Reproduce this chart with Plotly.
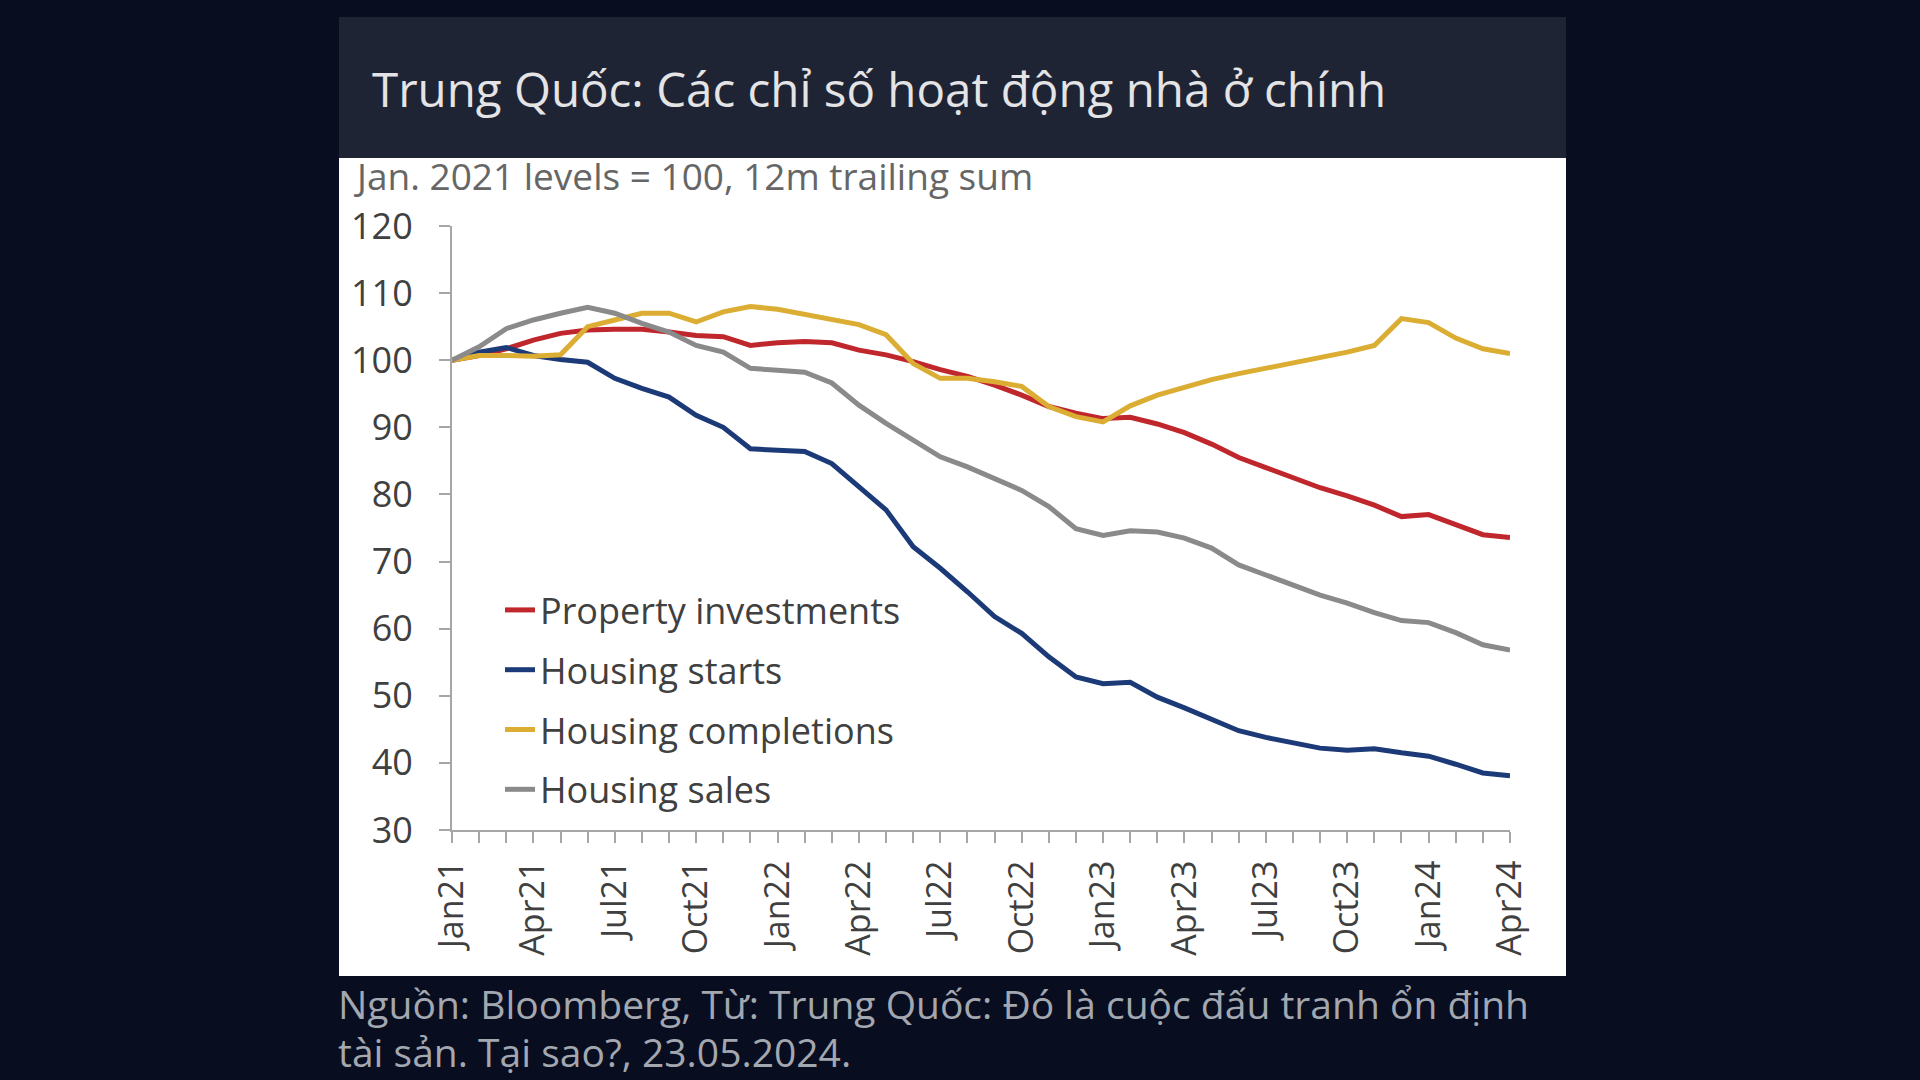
import plotly.graph_objects as go

W, H = 1920, 1080

months = ["Jan21", "Feb21", "Mar21", "Apr21", "May21", "Jun21", "Jul21", "Aug21", "Sep21", "Oct21",
          "Nov21", "Dec21", "Jan22", "Feb22", "Mar22", "Apr22", "May22", "Jun22", "Jul22", "Aug22",
          "Sep22", "Oct22", "Nov22", "Dec22", "Jan23", "Feb23", "Mar23", "Apr23", "May23", "Jun23",
          "Jul23", "Aug23", "Sep23", "Oct23", "Nov23", "Dec23", "Jan24", "Feb24", "Mar24", "Apr24"]

tick_labels = ["Jan21", "Apr21", "Jul21", "Oct21", "Jan22", "Apr22", "Jul22", "Oct22",
               "Jan23", "Apr23", "Jul23", "Oct23", "Jan24", "Apr24"]

property_investments = [100, 100.7, 101.7, 103, 104, 104.5, 104.6, 104.6, 104.2, 103.7,
                        103.5, 102.2, 102.6, 102.8, 102.6, 101.5, 100.8, 99.8, 98.6, 97.6,
                        96.3, 94.8, 93.1, 92.1, 91.3, 91.5, 90.5, 89.2, 87.5, 85.5,
                        84.0, 82.5, 81.0, 79.8, 78.4, 76.7, 77.0, 75.5, 74.0, 73.6]

housing_starts = [100, 101.2, 101.9, 100.7, 100.1, 99.7, 97.3, 95.8, 94.5, 91.8,
                  90.0, 86.8, 86.6, 86.4, 84.6, 81.1, 77.7, 72.2, 69.0, 65.5,
                  61.8, 59.3, 55.8, 52.8, 51.8, 52.0, 49.8, 48.2, 46.5, 44.8,
                  43.8, 43.0, 42.2, 41.9, 42.1, 41.5, 41.0, 39.8, 38.5, 38.1]

housing_completions = [100, 100.7, 100.7, 100.6, 100.8, 105.0, 106.0, 107.0, 107.0, 105.7,
                       107.2, 108.0, 107.6, 106.8, 106.0, 105.3, 103.8, 99.5, 97.3, 97.3,
                       96.8, 96.1, 93.1, 91.6, 90.8, 93.2, 94.8, 96.0, 97.1, 98.0,
                       98.8, 99.5, 100.4, 101.2, 102.2, 106.2, 105.6, 103.3, 101.7, 101.0]

housing_sales = [100, 102.0, 104.7, 106.0, 107.0, 107.9, 107.0, 105.5, 104.2, 102.2,
                 101.2, 98.8, 98.5, 98.2, 96.6, 93.3, 90.6, 88.1, 85.6, 84.1,
                 82.4, 80.6, 78.2, 74.9, 73.9, 74.6, 74.4, 73.5, 72.0, 69.5,
                 68.0, 66.5, 65.0, 63.8, 62.4, 61.2, 60.9, 59.4, 57.6, 56.8]

series = [
    ("Property investments", property_investments, "#c0272d"),
    ("Housing starts", housing_starts, "#1c3a78"),
    ("Housing completions", housing_completions, "#dbad33"),
    ("Housing sales", housing_sales, "#8a8a8a"),
]

title_text = "Trung Quốc: Các chỉ số hoạt động nhà ở chính"
subtitle_text = "Jan. 2021 levels = 100, 12m trailing sum"
footer_lines = ["Nguồn: Bloomberg, Từ: Trung Quốc: Đó là cuộc đấu tranh ổn định",
                "tài sản. Tại sao?, 23.05.2024."]

# plot-area geometry (pixels)
L, R, T, B = 452, 410, 226, 250
PW, PH = W - L - R, H - T - B


def px(x):
    return (x - L) / PW


def py(y):
    return (H - B - y) / PH


FONT = "Open Sans"
BG = "#080d1f"
fig = go.Figure()
for i, (name, vals, col) in enumerate(series):
    fig.add_trace(go.Scatter(x=months, y=vals, name=name, mode="lines",
                             line=dict(color=col, width=5), legendgroup=str(i)))

ticktext = [m if m in tick_labels else "" for m in months]

shapes = [
    dict(type="rect", xref="paper", yref="paper", x0=px(339), x1=px(1566), y0=py(158), y1=py(17),
         fillcolor="#1f2434", line=dict(width=0), layer="below"),
    dict(type="rect", xref="paper", yref="paper", x0=px(339), x1=px(1566), y0=py(976), y1=py(158),
         fillcolor="#ffffff", line=dict(width=0), layer="below"),
]

annotations = [
    dict(text=title_text, xref="paper", yref="paper", x=px(370), y=py(88), xanchor="left",
         yanchor="middle", showarrow=False, font=dict(family=FONT, size=47.5, color="#e4e4e6")),
    dict(text=subtitle_text, xref="paper", yref="paper", x=px(352), y=py(176), xanchor="left",
         yanchor="middle", showarrow=False, font=dict(family=FONT, size=37, color="#666666")),
    dict(text=footer_lines[0], xref="paper", yref="paper", x=px(336), y=py(1003), xanchor="left",
         yanchor="middle", showarrow=False, font=dict(family=FONT, size=39, color="#a3a7b0")),
    dict(text=footer_lines[1], xref="paper", yref="paper", x=px(336), y=py(1051), xanchor="left",
         yanchor="middle", showarrow=False, font=dict(family=FONT, size=39, color="#a3a7b0")),
]

fig.update_layout(
    width=W, height=H,
    margin=dict(l=L, r=R, t=T, b=B, pad=0),
    paper_bgcolor=BG,
    plot_bgcolor="rgba(0,0,0,0)",
    shapes=shapes,
    annotations=annotations,
    showlegend=True,
    legend=dict(x=px(500), y=py(580), xanchor="left", yanchor="top",
                bgcolor="rgba(0,0,0,0)", borderwidth=0,
                traceorder="grouped", tracegroupgap=10,
                font=dict(family=FONT, size=36, color="#404040")),
    xaxis=dict(type="category", range=[0, 39], tickmode="array", tickvals=months, ticktext=ticktext,
               tickangle=-90, ticks="outside", ticklen=11, tickwidth=2, tickcolor="#a6a6a6",
               showline=True, linecolor="#a6a6a6", linewidth=2, showgrid=False, zeroline=False,
               ticklabelstandoff=4,
               tickfont=dict(family=FONT, size=34, color="#404040")),
    yaxis=dict(range=[30, 120], tickmode="array", tickvals=list(range(30, 121, 10)),
               ticks="outside", ticklen=11, tickwidth=2, tickcolor="#a6a6a6",
               showline=True, linecolor="#a6a6a6", linewidth=2, showgrid=False, zeroline=False,
               ticklabelstandoff=19,
               tickfont=dict(family=FONT, size=36, color="#404040")),
)

fig.write_html("out.html", config={"displayModeBar": False},
               post_script="document.body.style.margin='0';document.body.style.padding='0';"
                           "document.body.style.backgroundColor='" + BG + "';"
                           "document.documentElement.style.backgroundColor='" + BG + "';")
